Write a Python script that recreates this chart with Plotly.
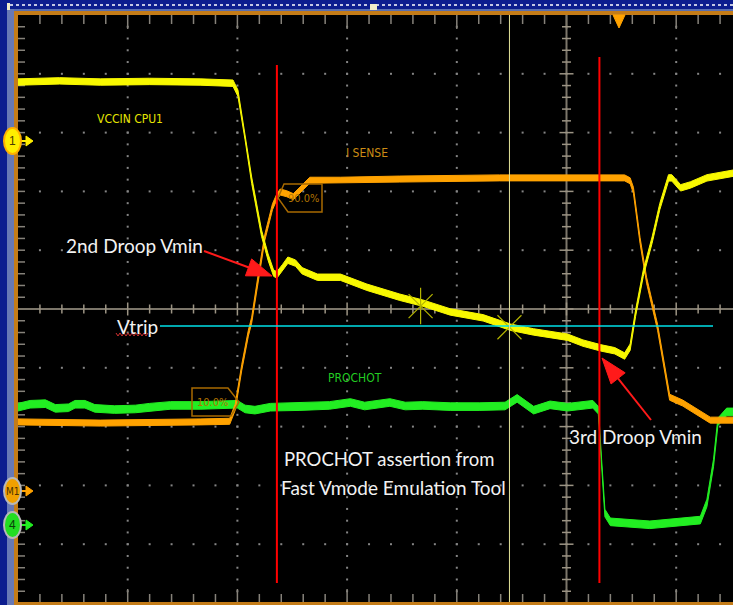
import numpy as np
import plotly.graph_objects as go

W, H = 733, 605

# Screen geometry of the scope graticule (pixels)
X0_PX = 18.0       # left edge of the graticule
DIV_X_PX = 109.7   # one horizontal division
Y0_PX = 309.0      # horizontal centre line
DIV_Y_PX = 58.8    # one vertical division

# ---------------- captured waveforms (graticule divisions) ----------------
# Channel 1 : VCCIN CPU1
vccin_t = [0.00, 0.38, 0.75, 1.20, 1.66, 1.96, 2.005, 2.07, 2.13, 2.22, 2.28, 2.33,
           2.36, 2.41, 2.46, 2.53, 2.59, 2.73, 2.94, 3.18, 3.48, 3.69, 3.94, 4.24,
           4.49, 4.70, 5.01, 5.15, 5.31, 5.44, 5.53, 5.58, 5.63, 5.70, 5.78, 5.85,
           5.93, 5.96, 6.04, 6.13, 6.28, 6.52]
vccin_v = [3.86, 3.88, 3.86, 3.87, 3.86, 3.84, 3.67, 2.93, 2.19, 1.29, 0.88, 0.61,
           0.58, 0.70, 0.83, 0.78, 0.65, 0.54, 0.54, 0.37, 0.20, 0.10, -0.05, -0.15,
           -0.31, -0.39, -0.48, -0.58, -0.66, -0.71, -0.80, -0.65, -0.07, 0.61, 1.17, 1.74,
           2.23, 2.23, 2.06, 2.11, 2.23, 2.31]

# Math 1 : I SENSE
isense_t = [0.00, 0.75, 1.66, 1.93, 1.98, 2.04, 2.10, 2.13, 2.19, 2.25, 2.32, 2.36,
            2.39, 2.45, 2.51, 2.60, 2.66, 2.94, 3.48, 4.39, 5.31, 5.53, 5.58, 5.61,
            5.67, 5.73, 5.83, 5.90, 5.94, 6.06, 6.19, 6.31, 6.52]
isense_v = [-1.92, -1.94, -1.92, -1.91, -1.67, -0.99, -0.41, -0.19, 0.54, 1.22, 1.74, 1.91,
            1.99, 1.96, 1.91, 2.08, 2.19, 2.19, 2.21, 2.23, 2.23, 2.23, 2.18, 2.02,
            1.17, 0.49, -0.31, -1.09, -1.50, -1.60, -1.75, -1.89, -1.89]

# Channel 4 : PROCHOT
prochot_t = [0.00, 0.11, 0.25, 0.34, 0.46, 0.52, 0.61, 0.70, 0.88, 1.07, 1.20, 1.39,
             1.66, 1.89, 2.00, 2.07, 2.16, 2.30, 2.57, 2.84, 3.03, 3.16, 3.39, 3.53,
             3.69, 3.94, 4.21, 4.44, 4.55, 4.70, 4.85, 5.01, 5.24, 5.29, 5.32, 5.35,
             5.40, 5.76, 6.22, 6.28, 6.34, 6.38, 6.46, 6.52]
prochot_v = [-1.67, -1.62, -1.61, -1.69, -1.68, -1.62, -1.62, -1.69, -1.71, -1.70, -1.67, -1.64,
             -1.64, -1.63, -1.62, -1.70, -1.72, -1.67, -1.66, -1.64, -1.59, -1.65, -1.59, -1.65,
             -1.64, -1.66, -1.66, -1.65, -1.52, -1.72, -1.63, -1.67, -1.62, -1.72, -2.62, -3.47,
             -3.62, -3.67, -3.59, -3.30, -2.62, -1.92, -1.75, -1.75]

# Threshold, droop instants and cursor readout points
vtrip_level = -0.29
droop_t = [2.36, 5.30]
cursor_t = [3.67, 4.48]
cursor_v = [0.05, -0.31]

# --------------------------------------------------------------------------
x_range = [-X0_PX / DIV_X_PX, (W - X0_PX) / DIV_X_PX]
y_range = [(Y0_PX - H) / DIV_Y_PX, Y0_PX / DIV_Y_PX]
X_END = x_range[1]


def P(x):
    return x / W


def Q(y):
    return 1 - y / H


def band(t, v, half):
    up = [a + half for a in v]
    lo = [a - half for a in v]
    return list(t) + list(t)[::-1], up + lo[::-1]


def segs(pairs):
    xs, ys = [], []
    for (x0, y0, x1, y1) in pairs:
        xs += [x0, x1, None]
        ys += [y0, y1, None]
    return xs, ys


fig = go.Figure()

# ---- graticule dots on the major lines ----
minor_y = np.round(np.arange(-4.8, 4.81, 0.2), 3)
minor_x = np.round(np.arange(0.2, 6.41, 0.2), 3)
dx, dy = [], []
for mx in [1, 2, 3, 4, 6]:
    dx += [mx] * len(minor_y)
    dy += list(minor_y)
for my in [-4, -3, -2, -1, 1, 2, 3, 4]:
    dx += list(minor_x)
    dy += [my] * len(minor_x)
fig.add_trace(go.Scatter(x=dx, y=dy, mode="markers",
                         marker=dict(symbol="square", size=2, color="#858585", line=dict(width=0)),
                         hoverinfo="skip"))

# ---- edge ticks ----
edge = []
for y in np.round(np.arange(-4.8, 4.81, 0.2), 3):
    edge.append((0, y, 7 / DIV_X_PX, y))
for x in np.round(np.arange(0.2, 6.41, 0.2), 3):
    major = abs(x - round(x)) < 1e-6
    L = (14 if major else 9) / DIV_Y_PX
    edge.append((x, 5, x, 5 - L))
    edge.append((x, -5, x, -5 + L))
ex, ey = segs(edge)
fig.add_trace(go.Scatter(x=ex, y=ey, mode="lines", line=dict(color="#86827a", width=1.5),
                         hoverinfo="skip"))

# ---- centre cross with ticks ----
cx, cy = segs([(0, 0, X_END, 0), (5, -5, 5, 5)])
fig.add_trace(go.Scatter(x=cx, y=cy, mode="lines", line=dict(color="#7c766a", width=2),
                         hoverinfo="skip"))
ticks = []
for x in np.round(np.arange(0.2, 6.41, 0.2), 3):
    major = abs(x - round(x)) < 1e-6
    L = (6.5 if major else 4.5) / DIV_Y_PX
    ticks.append((x, -L, x, L))
for y in np.round(np.arange(-4.8, 4.81, 0.2), 3):
    major = abs(y - round(y)) < 1e-6
    L = (7 if major else 4.5) / DIV_X_PX
    ticks.append((5 - L, y, 5 + L, y))
tx, ty = segs(ticks)
fig.add_trace(go.Scatter(x=tx, y=ty, mode="lines", line=dict(color="#9c9484", width=1.5),
                         hoverinfo="skip"))

# ---- waveforms, drawn as noise bands ----
for t, v, half, col in [
    (prochot_t, prochot_v, 3.8 / DIV_Y_PX, "#22ee22"),
    (isense_t, isense_v, 3.0 / DIV_Y_PX, "#ffa200"),
    (vccin_t, vccin_v, 3.2 / DIV_Y_PX, "#f8f800"),
]:
    bx, by = band(t, v, half)
    fig.add_trace(go.Scatter(x=bx, y=by, mode="lines", fill="toself", fillcolor=col,
                             line=dict(color=col, width=1.0), hoverinfo="skip"))

# ---- cursor markers on channel 1 ----
fig.add_trace(go.Scatter(x=cursor_t, y=cursor_v, mode="markers",
                         marker=dict(symbol="x-thin-open", size=24, color="#b4b400",
                                     line=dict(width=1.2, color="#b4b400")),
                         hoverinfo="skip"))
fig.add_trace(go.Scatter(x=cursor_t[:1], y=cursor_v[:1], mode="markers",
                         marker=dict(symbol="line-ns-open", size=26, color="#b4b400",
                                     line=dict(width=1.2, color="#b4b400")),
                         hoverinfo="skip"))

shapes = []


def rect(x0, y0, x1, y1, color):
    shapes.append(dict(type="rect", xref="paper", yref="paper", x0=P(x0), x1=P(x1),
                       y0=Q(y1), y1=Q(y0), fillcolor=color, line=dict(width=0), layer="above"))


def poly(points, fill, line_color, lw=1.0):
    path = "M" + "L".join(f"{P(x):.5f},{Q(y):.5f}" for x, y in points) + "Z"
    shapes.append(dict(type="path", xref="paper", yref="paper", path=path,
                       fillcolor=fill, line=dict(color=line_color, width=lw), layer="above"))


def ellipse(x0, y0, x1, y1, fill, line_color, lw=2):
    shapes.append(dict(type="circle", xref="paper", yref="paper", x0=P(x0), x1=P(x1),
                       y0=Q(y1), y1=Q(y0), fillcolor=fill,
                       line=dict(color=line_color, width=lw), layer="above"))


def arrow(tail, tip, color, head_len=25, head_half=9, lw=2):
    ux, uy = tip[0] - tail[0], tip[1] - tail[1]
    n = (ux ** 2 + uy ** 2) ** 0.5
    ux, uy = ux / n, uy / n
    bx, by = tip[0] - head_len * ux, tip[1] - head_len * uy
    px, py = -uy, ux
    shapes.append(dict(type="line", xref="paper", yref="paper", x0=P(tail[0]), y0=Q(tail[1]),
                       x1=P(bx + 4 * ux), y1=Q(by + 4 * uy), line=dict(color=color, width=lw),
                       layer="above"))
    poly([tip, (bx + head_half * px, by + head_half * py), (bx - head_half * px, by - head_half * py)],
         color, color, 1)


# droop markers (red), Vtrip (cyan), cursor 2 line
for t0, top in zip(droop_t, [65, 57]):
    shapes.append(dict(type="line", xref="x", yref="paper", x0=t0, x1=t0, y0=Q(583), y1=Q(top),
                       line=dict(color="#ff0000", width=2), layer="above"))
shapes.append(dict(type="line", xref="paper", yref="y", x0=P(160), x1=P(713),
                   y0=vtrip_level, y1=vtrip_level, line=dict(color="#00e0e8", width=1.5),
                   layer="above"))
shapes.append(dict(type="line", xref="x", yref="paper", x0=cursor_t[1], x1=cursor_t[1],
                   y0=Q(603), y1=Q(15), line=dict(color="#e4e49a", width=1), layer="above"))

# 10 % / 90 % measurement flags
poly([(192, 388), (228, 388), (239, 402), (231, 416), (192, 416)], "rgba(0,0,0,0)", "#a86a00", 1.5)
poly([(278, 198), (284, 184), (322, 184), (322, 212), (288, 212)], "rgba(0,0,0,0)", "#a86a00", 1.5)

# annotation arrows
arrow((204, 251), (272, 276), "#ff1a1a")
arrow((651, 420), (602, 358), "#ff1a1a", head_len=26)

# red spell-check squiggle under "Vtrip"
sq = []
for i, x in enumerate(range(116, 149, 2)):
    sq.append((x, 333 if i % 2 == 0 else 336))
shapes.append(dict(type="path", xref="paper", yref="paper",
                   path="M" + "L".join(f"{P(x):.5f},{Q(y):.5f}" for x, y in sq),
                   line=dict(color="#d03030", width=1), layer="above"))

# scope frame (top and left only)
rect(0, 0, W, 11, "#0c1d8f")
rect(0, 9, W, 11, "#5a6fb0")
rect(14, 11, W, 15, "#c47c18")
rect(0, 0, 7, H, "#0c1d8f")
rect(7, 9, 14, H, "#6879b5")
rect(14, 11, 18, H, "#c47c18")
rect(14, 602, W, H, "#c47c18")
shapes.append(dict(type="line", xref="paper", yref="paper", x0=P(10), x1=P(W), y0=Q(5), y1=Q(5),
                   line=dict(color="#ffffff", width=1.5, dash="dot"), layer="above"))
rect(7, 3, 10, 10, "#f0ecc8")
rect(370, 4, 377, 10, "#f0ecc8")
poly([(613, 15), (625, 15), (619, 28)], "#ffa200", "#ffa200", 1)

# channel reference markers
for yc, fill, glow, arrow_col in [(141, "#ffee00", "#ffb000", "#ffee00"),
                                  (491, "#f0a000", "#b8b8b8", "#ffa200"),
                                  (525, "#22dd22", "#b8b8b8", "#22ee22")]:
    shapes.append(dict(type="line", xref="paper", yref="paper", x0=P(20), x1=P(28),
                       y0=Q(yc), y1=Q(yc), line=dict(color=arrow_col, width=2), layer="above"))
    poly([(26, yc - 5), (33, yc), (26, yc + 5)], arrow_col, arrow_col, 1)
    ellipse(4, yc - 13, 21, yc + 13, fill, glow, 2)

annotations = []


def label(x, y, text, color, size, family, xanchor="left"):
    annotations.append(dict(xref="paper", yref="paper", x=P(x), y=Q(y), text=text,
                            showarrow=False, xanchor=xanchor, yanchor="middle",
                            font=dict(color=color, size=size, family=family)))


NARROW = "DejaVu Sans Condensed, Liberation Sans Narrow, sans-serif"
HUMAN = "Lato, Noto Sans, sans-serif"

label(95, 119, "VCCIN CPU1", "#e4e400", 12, NARROW)
label(344, 153, "I SENSE", "#cc8c14", 12, NARROW)
label(326, 378, "PROCHOT", "#22cc22", 12, NARROW)
label(213, 402, "10.0%", "#b07400", 11, NARROW, "center")
label(303, 198, "90.0%", "#b07400", 11, NARROW, "center")

label(64, 245, "2nd Droop Vmin", "#f2f2f2", 19, HUMAN)
label(115, 326, "Vtrip", "#f2f2f2", 19, HUMAN)
label(282, 459, "PROCHOT assertion from", "#f2f2f2", 18.5, HUMAN)
label(279, 487, "Fast Vmode Emulation Tool", "#f2f2f2", 19, HUMAN)
label(567, 437, "3rd Droop Vmin", "#f2f2f2", 19, HUMAN)

label(12.5, 141, "1", "#4a3c00", 12, "Liberation Sans, sans-serif", "center")
label(12.5, 491, "M1", "#4a3000", 10, NARROW, "center")
label(12.5, 525, "4", "#0a400a", 12, "Liberation Sans, sans-serif", "center")

fig.update_layout(
    width=W, height=H, autosize=False,
    margin=dict(l=0, r=0, t=0, b=0, pad=0),
    paper_bgcolor="#000000", plot_bgcolor="#000000",
    showlegend=False, hovermode=False,
    xaxis=dict(range=x_range, visible=False, fixedrange=True, domain=[0, 1]),
    yaxis=dict(range=y_range, visible=False, fixedrange=True, domain=[0, 1]),
    shapes=shapes, annotations=annotations,
)

# keep the page exactly the size of the figure (no scrollbars)
page_css = ("document.documentElement.style.overflow='hidden';"
            "document.body.style.margin='0';document.body.style.overflow='hidden';")
fig.write_html("out.html", config={"displayModeBar": False}, post_script=page_css)
